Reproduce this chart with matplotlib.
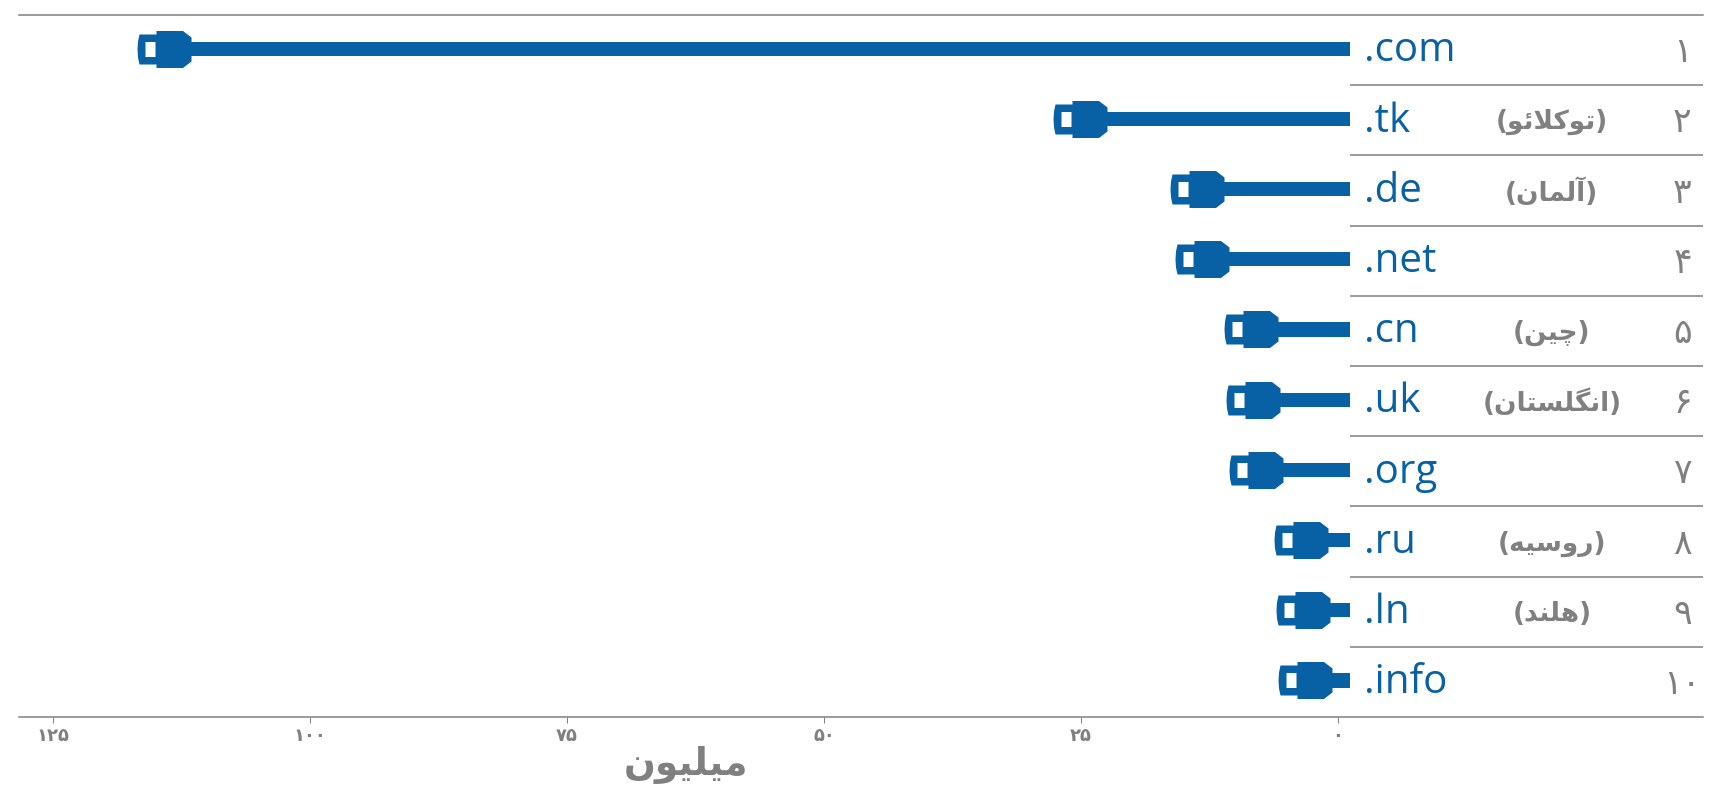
import matplotlib
matplotlib.use('Agg')
import matplotlib.pyplot as plt
from matplotlib.path import Path

# Persian text is not shaped by matplotlib, so join the letters by hand
# (isolated, final, initial, medial)
FORMS = {
    'ا': '\uFE8D\uFE8E', 'آ': '\uFE81\uFE82', 'د': '\uFEA9\uFEAA', 'ر': '\uFEAD\uFEAE',
    'و': '\uFEED\uFEEE',
    'ئ': '\uFE89\uFE8A\uFE8B\uFE8C', 'ت': '\uFE95\uFE96\uFE97\uFE98',
    'ک': '\uFB8E\uFB8F\uFB90\uFB91', 'گ': '\uFB92\uFB93\uFB94\uFB95',
    'ل': '\uFEDD\uFEDE\uFEDF\uFEE0', 'م': '\uFEE1\uFEE2\uFEE3\uFEE4',
    'ن': '\uFEE5\uFEE6\uFEE7\uFEE8', 'چ': '\uFB7A\uFB7B\uFB7C\uFB7D',
    'ی': '\uFBFC\uFBFD\uFBFE\uFBFF', 'س': '\uFEB1\uFEB2\uFEB3\uFEB4',
    'ه': '\uFEE9\uFEEA\uFEEB\uFEEC',
}


def shape(word):
    out = []
    prev_joins = False
    i = 0
    while i < len(word):
        c = word[i]
        if word[i:i + 2] == 'لا':
            out.append('\uFEFC' if prev_joins else '\uFEFB')
            prev_joins = False
            i += 2
            continue
        f = FORMS[c]
        next_ok = i + 1 < len(word)
        if len(f) == 4:
            idx = {(0, 0): 0, (1, 0): 1, (0, 1): 2, (1, 1): 3}[(int(prev_joins), int(next_ok))]
            prev_joins = True
        else:
            idx = 1 if prev_joins else 0
            prev_joins = False
        out.append(f[idx])
        i += 1
    return ''.join(reversed(out))


domains = ['.com', '.tk', '.de', '.net', '.cn', '.uk', '.org', '.ru', '.ln', '.info']
countries = ['', 'توکلائو', 'آلمان', '', 'چین', 'انگلستان', '', 'روسیه', 'هلند', '']
ranks = ['۱', '۲', '۳', '۴', '۵', '۶', '۷', '۸', '۹', '۱۰']
values = [116.8, 27.7, 16.3, 15.9, 11.1, 10.9, 10.6, 6.2, 6.0, 5.8]
tick_vals = [125, 100, 75, 50, 25, 0]
tick_labels = ['۱۲۵', '۱۰۰', '۷۵', '۵۰', '۲۵', '۰']
unit = 'میلیون'

BLUE = '#0761a4'
GRAY = '#808080'
BASE = -1.2
RIGHT = -35.5

# usb plug, tip at x=0, sizes in pixels
plug_outer = [(2, -15), (19, -15), (19, -18.5), (45.5, -18.5), (54, -12), (54, 12),
              (45.5, 18.5), (19, 18.5), (19, 15), (2, 15), (0.5, 8), (0, 0), (0.5, -8), (2, -15)]
plug_hole = [(8, -7.5), (8, 7.5), (18, 7.5), (18, -7.5), (8, -7.5)]
codes = ([Path.MOVETO] + [Path.LINETO] * (len(plug_outer) - 2) + [Path.CLOSEPOLY]
         + [Path.MOVETO] + [Path.LINETO] * (len(plug_hole) - 2) + [Path.CLOSEPOLY])
plug = Path(plug_outer + plug_hole, codes)

fig = plt.figure(figsize=(17.22, 8.01), dpi=100)
ax = fig.add_axes([19 / 1722, 84 / 801, 1684 / 1722, 702 / 801])

y = list(range(1, 11))
bar_y = [r - 0.02 for r in y]
# cable ends inside the plug body so it does not show through the hole
ax.barh(bar_y, [v - 3 - BASE for v in values], left=BASE, height=0.2, color=BLUE)
ax.plot(values, bar_y, ls='none', marker=plug, markersize=77.76, color=BLUE,
        markeredgewidth=0, clip_on=False)

ax.hlines([r + 0.5 for r in y[:-1]], BASE, RIGHT, color=GRAY, lw=1.1)

for r, d, c, k in zip(y, domains, countries, ranks):
    ax.text(-2.5, r + 0.16, d, color=BLUE, fontsize=29, family='Open Sans', va='baseline', ha='left')
    if c:
        ax.text(-20.8, r + 0.03, '(' + shape(c) + ')', color=GRAY, fontsize=19, weight='bold',
                family='DejaVu Sans', va='center', ha='center')
    ax.text(-33.5, r + 0.03, k, color=GRAY, fontsize=25, family='DejaVu Sans',
            va='center', ha='center')

ax.set_xlim(128.3, RIGHT)
ax.set_ylim(10.5, 0.5)
ax.set_yticks([])
ax.set_xticks(tick_vals)
ax.set_xticklabels(tick_labels, fontsize=13, color=GRAY, family='DejaVu Sans', weight='bold')
ax.tick_params(axis='x', length=4, width=0.7, color=GRAY, pad=3)
for s in ['left', 'right']:
    ax.spines[s].set_visible(False)
for s in ['top', 'bottom']:
    ax.spines[s].set_color(GRAY)
    ax.spines[s].set_linewidth(1.1)

ax.text(63.4, 11.18, shape(unit), color=GRAY, fontsize=27, weight='bold', family='DejaVu Sans',
        va='center', ha='center')

fig.savefig('out.png', dpi=100)
